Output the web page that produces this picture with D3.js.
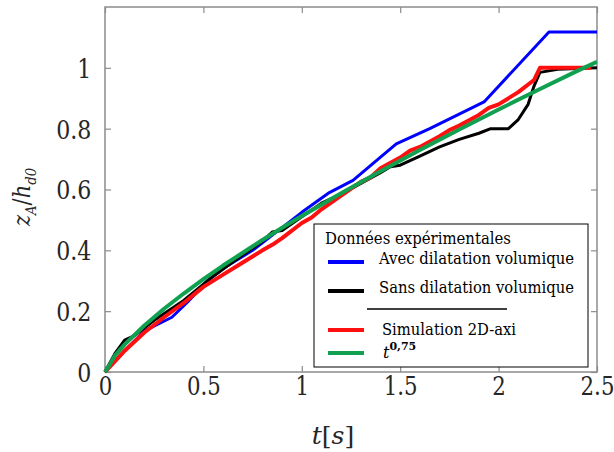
<!DOCTYPE html>
<html><head><meta charset="utf-8">
<script src="https://cdn.jsdelivr.net/npm/d3@7"></script>
<style>body{margin:0;background:#fff}svg{display:block}
svg text{font-family:"DejaVu Serif","Liberation Serif",serif !important;}
</style>
</head><body>
<svg id="c" width="614" height="452"></svg>
<script>
// ---- data ----
const xTicks = [0, 0.5, 1, 1.5, 2, 2.5];
const xTickLabels = ["0", "0.5", "1", "1.5", "2", "2.5"];
const yTicks = [0, 0.2, 0.4, 0.6, 0.8, 1];
const yTickLabels = ["0", "0.2", "0.4", "0.6", "0.8", "1"];

const avecT = [0, 0.1, 0.2, 0.34, 0.42, 0.52, 0.6, 0.75, 0.87, 1.0, 1.14, 1.26, 1.48, 1.65, 1.926, 2.256, 2.5];
const avecV = [0, 0.07, 0.135, 0.18, 0.23, 0.30, 0.34, 0.40, 0.46, 0.525, 0.59, 0.63, 0.75, 0.80, 0.888, 1.118, 1.118];

const sansT = [0, 0.05, 0.1, 0.15, 0.25, 0.4, 0.55, 0.7, 0.8, 0.85, 0.9, 1.0, 1.1, 1.2, 1.3, 1.4, 1.45, 1.5, 1.6, 1.7, 1.8, 1.9, 1.96, 2.05, 2.1, 2.15, 2.18, 2.21, 2.3, 2.5];
const sansV = [0, 0.06, 0.105, 0.12, 0.17, 0.235, 0.315, 0.385, 0.43, 0.46, 0.465, 0.51, 0.555, 0.585, 0.62, 0.655, 0.675, 0.68, 0.71, 0.74, 0.765, 0.785, 0.80, 0.80, 0.83, 0.88, 0.94, 0.985, 0.995, 1.0];

const simT = [0, 0.05, 0.1, 0.2, 0.3, 0.4, 0.5, 0.6, 0.7, 0.8, 0.85, 0.9, 1.0, 1.05, 1.1, 1.2, 1.3, 1.35, 1.4, 1.5, 1.55, 1.6, 1.7, 1.75, 1.8, 1.9, 1.95, 2.0, 2.1, 2.18, 2.21, 2.3, 2.47];
const simV = [0, 0.035, 0.07, 0.13, 0.18, 0.227, 0.28, 0.32, 0.36, 0.40, 0.418, 0.44, 0.49, 0.508, 0.535, 0.58, 0.625, 0.64, 0.67, 0.705, 0.728, 0.74, 0.775, 0.795, 0.81, 0.845, 0.868, 0.88, 0.92, 0.96, 1.0, 1.0, 1.0];

const powT = [0, 0.02, 0.05, 0.1, 0.2, 0.3, 0.4, 0.5, 0.6, 0.7, 0.8, 0.9, 1.0, 1.2, 1.4, 1.6, 1.8, 2.0, 2.2, 2.4, 2.5];
const powV = [0, 0.02, 0.054, 0.091, 0.153, 0.208, 0.258, 0.305, 0.350, 0.392, 0.434, 0.474, 0.513, 0.588, 0.660, 0.730, 0.797, 0.863, 0.927, 0.990, 1.02];

const seriesNames = ["Avec dilatation volumique", "Sans dilatation volumique", "Simulation 2D-axi"];
const legendTitle = "Données expérimentales";

// ---- layout ----
const svg = d3.select("#c");
const L = 105, R = 597, T = 7, B = 372;
const x = d3.scaleLinear().domain([0, 2.5]).range([L, R]);
const y = d3.scaleLinear().domain([0, 1.2]).range([B, T]);
const axisCol = "#8c8c8c";

svg.append("rect").attr("x", L).attr("y", T).attr("width", R - L).attr("height", B - T)
  .attr("fill", "none").attr("stroke", axisCol).attr("stroke-width", 1.5);

const gx = svg.append("g").attr("transform", `translate(0,${B})`)
  .call(d3.axisBottom(x).tickValues(xTicks).tickSize(-6).tickFormat((d, i) => xTickLabels[i]).tickPadding(4));
const gy = svg.append("g").attr("transform", `translate(${L},0)`)
  .call(d3.axisLeft(y).tickValues(yTicks).tickSize(-6).tickFormat((d, i) => yTickLabels[i]).tickPadding(16));
const gxt = svg.append("g").attr("transform", `translate(0,${T})`)
  .call(d3.axisTop(x).tickValues(xTicks).tickSize(-6).tickFormat(""));
const gyr = svg.append("g").attr("transform", `translate(${R},0)`)
  .call(d3.axisRight(y).tickValues(yTicks).tickSize(-6).tickFormat(""));
[gx, gy, gxt, gyr].forEach(g => {
  g.select(".domain").remove();
  g.selectAll(".tick line").attr("stroke", axisCol).attr("stroke-width", 1.2);
  g.selectAll("text").attr("fill", "#262626").attr("font-size", 26);
});
gx.selectAll("text").attr("dy", "0.72em").attr("transform", "scale(0.82,1)");
gy.selectAll("text").attr("dy", "0.36em").attr("transform", "scale(0.85,1)");

const line = d3.line().x(d => x(d[0])).y(d => y(d[1]));
const zip = (a, b) => a.map((t, i) => [t, b[i]]);
const curves = [
  {d: zip(avecT, avecV), c: "#0000ff", w: 3},
  {d: zip(sansT, sansV), c: "#000000", w: 3},
  {d: zip(simT, simV), c: "#ff1010", w: 4},
  {d: zip(powT, powV), c: "#10a050", w: 4}
];
svg.append("clipPath").attr("id", "pc").append("rect")
  .attr("x", L - 3).attr("y", T).attr("width", R - L + 3).attr("height", B - T + 3);
curves.forEach(s => {
  svg.append("path").attr("d", line(s.d)).attr("fill", "none")
    .attr("stroke", s.c).attr("stroke-width", s.w).attr("stroke-linejoin", "round")
    .attr("clip-path", "url(#pc)");
});

svg.append("text").attr("x", 333).attr("y", 444).attr("text-anchor", "middle")
  .attr("font-size", 25).attr("fill", "#262626")
  .html('<tspan font-style="italic">t</tspan>[<tspan font-style="italic">s</tspan>]');
svg.append("text").attr("transform", "translate(30,197) rotate(-90) scale(0.88,1)").attr("text-anchor", "middle")
  .attr("font-size", 24).attr("fill", "#262626")
  .html('<tspan font-style="italic">z</tspan><tspan font-style="italic" font-size="15" dy="6">A</tspan><tspan dy="-6">/</tspan><tspan font-style="italic">h</tspan><tspan font-style="italic" font-size="15" dy="6">d0</tspan>');

const lg = svg.append("g");
lg.append("rect").attr("x", 314).attr("y", 224).attr("width", 274).attr("height", 143)
  .attr("fill", "#fff").attr("stroke", "#000").attr("stroke-width", 1);
const lf = 16;
lg.append("text").attr("x", 325).attr("y", 244).text(legendTitle)
  .attr("font-size", lf).attr("fill", "#000")
  .attr("textLength", 186).attr("lengthAdjust", "spacingAndGlyphs");
const entries = [
  {c: "#0000ff", ly: 262, ty: 264, tx: 379, w: 195, t: seriesNames[0]},
  {c: "#000000", ly: 291, ty: 293, tx: 379, w: 195, t: seriesNames[1]},
  {c: "#ff1010", ly: 330, ty: 335, tx: 382, w: 134, t: seriesNames[2]}
];
entries.forEach(e => {
  lg.append("line").attr("x1", 328).attr("x2", 364).attr("y1", e.ly).attr("y2", e.ly)
    .attr("stroke", e.c).attr("stroke-width", 4);
  lg.append("text").attr("x", e.tx).attr("y", e.ty).text(e.t)
    .attr("font-size", lf).attr("fill", "#000")
    .attr("textLength", e.w).attr("lengthAdjust", "spacingAndGlyphs");
});
lg.append("line").attr("x1", 367).attr("x2", 507).attr("y1", 309).attr("y2", 309)
  .attr("stroke", "#000").attr("stroke-width", 1.5);
lg.append("line").attr("x1", 328).attr("x2", 364).attr("y1", 353).attr("y2", 353)
  .attr("stroke", "#10a050").attr("stroke-width", 4);
lg.append("text").attr("x", 383).attr("y", 358)
  .attr("font-size", lf).attr("fill", "#000")
  .html('<tspan font-style="italic">t</tspan><tspan font-size="11" dy="-8" font-weight="bold">0,75</tspan>');
</script>
</body></html>
